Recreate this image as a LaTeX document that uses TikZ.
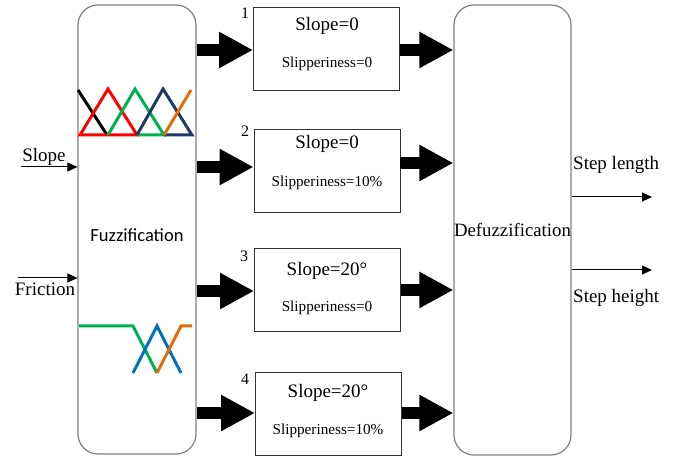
\documentclass[tikz,border=0pt]{standalone}
\usepackage{fontspec}
\setmainfont{Liberation Serif}
\newfontfamily\calibrifont{Carlito}
\usetikzlibrary{arrows.meta}
\definecolor{mfred}{HTML}{FF0000}
\definecolor{mfgreen}{HTML}{00B050}
\definecolor{mfnavy}{HTML}{203864}
\definecolor{mforange}{HTML}{E46C0A}
\definecolor{mfblue}{HTML}{0070C0}
\definecolor{boxgray}{HTML}{7F7F7F}
\tikzset{
  roundbox/.style={draw=boxgray, line width=1.2pt, rounded corners=20pt, inner sep=0pt},
  rulebox/.style={draw=black!80, line width=0.9pt, inner sep=0pt, minimum width=146pt, minimum height=83pt},
  bigtxt/.style={font=\fontsize{19}{20}\selectfont, inner sep=0pt},
  smalltxt/.style={font=\fontsize{15.2}{16}\selectfont, inner sep=0pt},
  numtxt/.style={font=\fontsize{16}{17}\selectfont, inner sep=0pt},
  fat/.style={line width=12pt, -{Triangle[length=34pt,width=34pt]}},
  thinarrow/.style={line width=1pt, -{Triangle[length=10pt,width=9pt]}},
  mf/.style={line width=3pt}
}
\begin{document}
\begin{tikzpicture}[x=1pt,y=-1pt]
\useasboundingbox (0,0) rectangle (673,457);

% main blocks
\node[roundbox, minimum width=118pt, minimum height=449pt] (fuz) at (137,229.5) {};
\node[roundbox, minimum width=117pt, minimum height=450pt] (def) at (512.5,230) {};
\node[font=\calibrifont\fontsize{18.5}{20}\selectfont, inner sep=0pt] (fuzlabel) at (137,235) {Fuzzification};
\node[font=\fontsize{18.8}{20}\selectfont, inner sep=0pt] (deflabel) at (512.5,230) {Defuzzification};

% rule boxes
\node[rulebox] (r1) at (326.5,48.5) {};
\node[rulebox] (r2) at (327,170.5) {};
\node[rulebox] (r3) at (327.5,289.5) {};
\node[rulebox] (r4) at (328.5,414) {};

\node[numtxt] (n1) at (245,13) {1};
\node[numtxt] (n2) at (245,131) {2};
\node[numtxt] (n3) at (244,256) {3};
\node[numtxt] (n4) at (245,379) {4};

\node[bigtxt] (s1) at (327,26) {Slope=0};
\node[smalltxt] (p1) at (327,64) {Slipperiness=0};
\node[bigtxt] (s2) at (327,144) {Slope=0};
\node[smalltxt] (p2) at (327,183) {Slipperiness=10\%};
\node[bigtxt] (s3) at (327,271) {Slope=20°};
\node[smalltxt] (p3) at (327,308) {Slipperiness=0};
\node[bigtxt] (s4) at (328,393) {Slope=20°};
\node[smalltxt] (p4) at (328,431) {Slipperiness=10\%};

% fat arrows in
\draw[fat] ([yshift=-1.5pt]fuz.east |- r1.west) -- ([yshift=-1.5pt]r1.west);
\draw[fat] ([yshift=3.5pt]fuz.east |- r2.west) -- ([yshift=3.5pt]r2.west);
\draw[fat] ([yshift=-1.5pt]fuz.east |- r3.west) -- ([yshift=-1.5pt]r3.west);
\draw[fat] ([yshift=1pt]fuz.east |- r4.west) -- ([yshift=1pt]r4.west);
% fat arrows out
\draw[fat] ([yshift=-1.5pt]r1.east) -- ([yshift=-1.5pt]r1.east -| def.west);
\draw[fat] ([yshift=7.5pt]r2.east) -- ([yshift=7.5pt]r2.east -| def.west);
\draw[fat] ([yshift=-0.5pt]r3.east) -- ([yshift=-0.5pt]r3.east -| def.west);
\draw[fat] ([yshift=1pt]r4.east) -- ([yshift=1pt]r4.east -| def.west);

% inputs
\node[bigtxt] (slopein) at (44,157) {Slope};
\node[bigtxt] (frictionin) at (45,289) {Friction};
\coordinate (sinstart) at (21,167);
\coordinate (finstart) at (18,278);
\draw[thinarrow] (sinstart) -- (sinstart -| fuz.west);
\draw[thinarrow] (finstart) -- (finstart -| fuz.west);

% outputs
\coordinate (lenend) at (652,197);
\coordinate (heiend) at (652,270);
\draw[thinarrow] (lenend -| def.east) -- (lenend);
\draw[thinarrow] (heiend -| def.east) -- (heiend);
\node[bigtxt, anchor=west] (lenlabel) at (573,165) {Step length};
\node[bigtxt, anchor=west] (heilabel) at (573,298) {Step height};

% membership functions (slope)
\draw[mf, black] (78,90) -- (107,135);
\draw[mf, mfred] (80,135) -- (108,89) -- (137,135) -- cycle;
\draw[mf, mfgreen] (108,135) -- (135,89) -- (164,135) -- (137,135);
\draw[mf, mfnavy] (137,135) -- (163,89) -- (192,135) -- (164,135);
\draw[mf, mforange] (164,135) -- (191,90);

% membership functions (friction)
\draw[mf, mfgreen] (79,326) -- (133,326) -- (157,373);
\draw[mf, mfblue] (133,373) -- (157,326) -- (181,373);
\draw[mf, mforange] (157,373) -- (181,326) -- (192,326);
\end{tikzpicture}
\end{document}
